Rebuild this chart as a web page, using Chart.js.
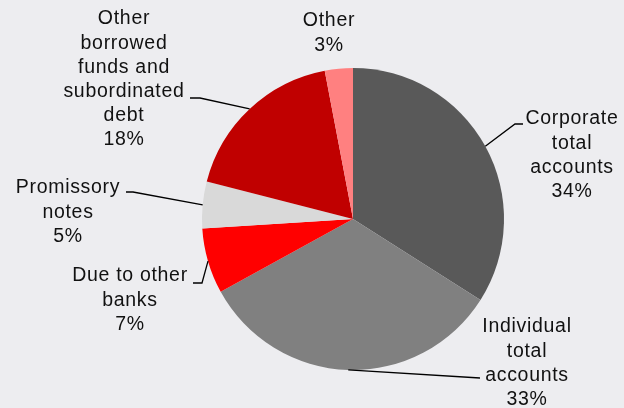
<!DOCTYPE html>
<html>
<head>
<meta charset="utf-8">
<script src="https://cdn.jsdelivr.net/npm/chart.js@4"></script>
<style>
  html, body { margin: 0; padding: 0; background: #ededf0; }
  canvas { display: block; }
</style>
</head>
<body>
<canvas id="funding" width="624" height="408"></canvas>
<script>
// Funding structure, share of total (%)
const categories = [
  'Corporate total accounts',
  'Individual total accounts',
  'Due to other banks',
  'Promissory notes',
  'Other borrowed funds and subordinated debt',
  'Other'
];
const shares = [34, 33, 7, 5, 18, 3];

// Wrapped label text for each slice (percentage line is appended from shares)
const labelLines = [
  ['Corporate', 'total', 'accounts'],
  ['Individual', 'total', 'accounts'],
  ['Due to other', 'banks'],
  ['Promissory', 'notes'],
  ['Other', 'borrowed', 'funds and', 'subordinated', 'debt'],
  ['Other']
];

const sliceColors = ['#595959', '#808080', '#ff0000', '#d9d9d9', '#c00000', '#ff8080'];

// Label placement: text block centre x, first baseline-middle y,
// optional leader elbow and end points (leader starts at the slice's outer midpoint)
const labelLayout = [
  { x: 572, y: 119, elbow: [515, 124], end: [523, 124] },
  { x: 527, y: 327, elbow: null, end: [480, 378] },
  { x: 130, y: 276, elbow: [202, 283], end: [193, 283] },
  { x: 68,  y: 188, elbow: [133, 192], end: [126, 192] },
  { x: 124, y: 19,  elbow: [200, 98],  end: [190, 98] },
  { x: 329, y: 21,  elbow: null, end: null }
];

const lineHeight = 24.2;

const background = {
  id: 'background',
  beforeDraw(chart) {
    const ctx = chart.ctx;
    ctx.save();
    ctx.fillStyle = '#ededf0';
    ctx.fillRect(0, 0, chart.width, chart.height);
    ctx.restore();
  }
};

const sliceLabels = {
  id: 'sliceLabels',
  afterDatasetsDraw(chart) {
    const ctx = chart.ctx;
    const arcs = chart.getDatasetMeta(0).data;
    ctx.save();
    arcs.forEach((arc, i) => {
      const p = arc.getProps(['x', 'y', 'startAngle', 'endAngle', 'outerRadius'], true);
      const mid = (p.startAngle + p.endAngle) / 2;
      const sx = p.x + Math.cos(mid) * p.outerRadius;
      const sy = p.y + Math.sin(mid) * p.outerRadius;
      const lay = labelLayout[i];
      if (lay.end) {
        ctx.beginPath();
        ctx.strokeStyle = '#000';
        ctx.lineWidth = 1.3;
        ctx.moveTo(sx, sy);
        if (lay.elbow) ctx.lineTo(lay.elbow[0], lay.elbow[1]);
        ctx.lineTo(lay.end[0], lay.end[1]);
        ctx.stroke();
      }
      const lines = labelLines[i].concat([shares[i] + '%']);
      ctx.fillStyle = '#111';
      ctx.font = '19.5px "Liberation Sans", Arial, sans-serif';
      ctx.letterSpacing = '0.7px';
      ctx.textAlign = 'center';
      ctx.textBaseline = 'middle';
      lines.forEach((t, k) => {
        ctx.fillText(t, lay.x, lay.y + k * lineHeight);
      });
    });
    ctx.restore();
  }
};

new Chart(document.getElementById('funding'), {
  type: 'pie',
  data: {
    labels: categories,
    datasets: [{
      data: shares,
      backgroundColor: sliceColors,
      borderWidth: 0
    }]
  },
  options: {
    responsive: false,
    animation: false,
    layout: { padding: { left: 201, right: 119, top: 68, bottom: 38 } },
    plugins: {
      legend: { display: false },
      tooltip: { enabled: false }
    }
  },
  plugins: [background, sliceLabels]
});
</script>
</body>
</html>
